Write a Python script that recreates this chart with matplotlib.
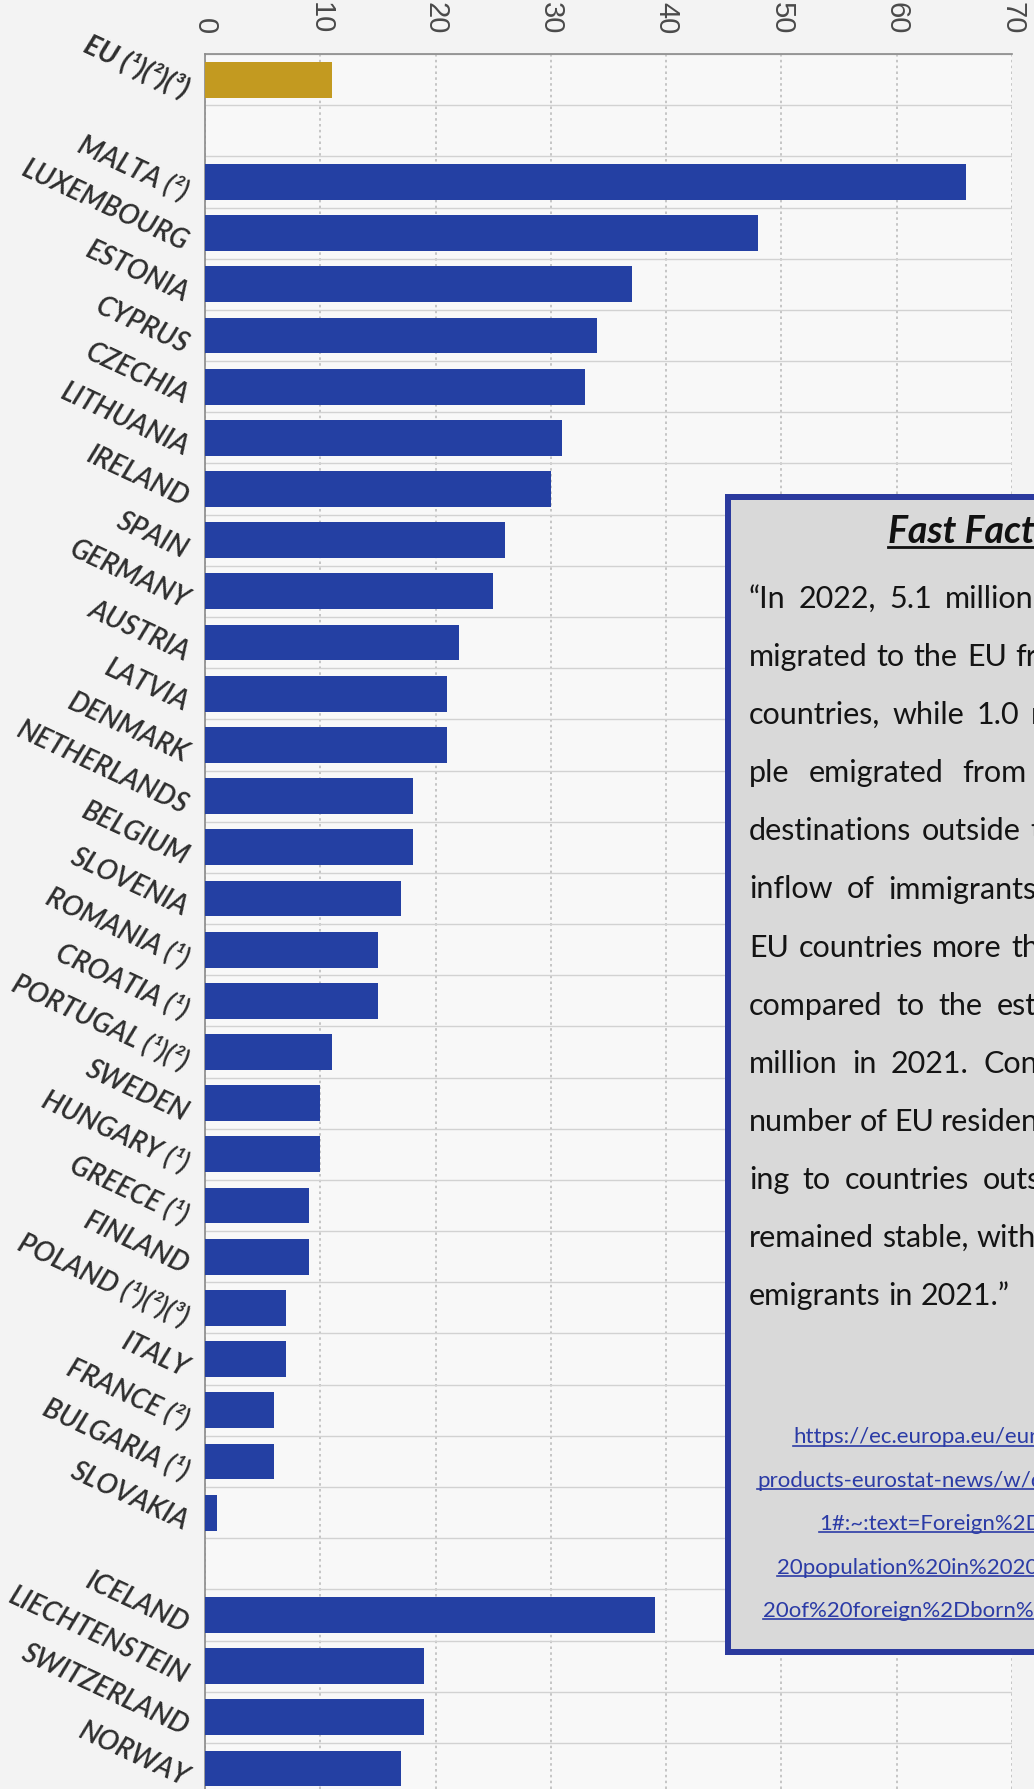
import matplotlib
matplotlib.use("Agg")
import matplotlib.pyplot as plt
import matplotlib.patches as mpatches
import matplotlib.transforms as mtransforms
from matplotlib.lines import Line2D
from matplotlib.ticker import FixedLocator
import numpy as np

# ---------------- data ----------------
eu_label = "EU (¹)(²)(³)"
eu_value = 11
member_countries = ["MALTA (²)", "LUXEMBOURG", "ESTONIA", "CYPRUS", "CZECHIA",
                    "LITHUANIA", "IRELAND", "SPAIN", "GERMANY", "AUSTRIA",
                    "LATVIA", "DENMARK", "NETHERLANDS", "BELGIUM", "SLOVENIA",
                    "ROMANIA (¹)", "CROATIA (¹)", "PORTUGAL (¹)(²)", "SWEDEN",
                    "HUNGARY (¹)", "GREECE (¹)", "FINLAND", "POLAND (¹)(²)(³)",
                    "ITALY", "FRANCE (²)", "BULGARIA (¹)", "SLOVAKIA"]
member_values = [66, 48, 37, 34, 33, 31, 30, 26, 25, 22, 21, 21, 18, 18, 17,
                 15, 15, 11, 10, 10, 9, 9, 7, 7, 6, 6, 1]
efta_countries = ["ICELAND", "LIECHTENSTEIN", "SWITZERLAND", "NORWAY"]
efta_values = [39, 19, 19, 17]
x_ticks = [0, 10, 20, 30, 40, 50, 60, 70]

box_title = "Fast Facts"
body_lines = [
    "“In 2022, 5.1 million people im-",
    "migrated to the EU from non-EU",
    "countries, while 1.0 million peo-",
    "ple emigrated from the EU to",
    "destinations outside the EU. The",
    "inflow of immigrants from non-",
    "EU countries more than doubled",
    "compared to the estimated 2.3",
    "million in 2021. Conversely, the",
    "number of EU residents emigrat-",
    "ing to countries outside the EU",
    "remained stable, with 1.1 million",
    "emigrants in 2021.”",
]
link_lines = [
    "https://ec.europa.eu/eurostat/web/",
    "products-eurostat-news/w/ddn-20230330-",
    "1#:~:text=Foreign%2Dborn%",
    "20population%20in%202022%",
    "20of%20foreign%2Dborn%20people",
]

# ---------------- styles ----------------
W, H, DPI = 1034, 1790, 100
BLUE = "#2440A3"
GOLD = "#C39A20"
FIG_BG = "#F3F3F3"
AX_BG = "#F8F8F8"

labels = [eu_label, ""] + member_countries + [""] + efta_countries
values = [eu_value, np.nan] + member_values + [np.nan] + efta_values
colors = [GOLD, BLUE] + [BLUE] * len(member_countries) + [BLUE] + [BLUE] * len(efta_countries)
ypos = np.arange(len(labels))

fig = plt.figure(figsize=(W / DPI, H / DPI), dpi=DPI, facecolor=FIG_BG)
ax_left, ax_right, ax_top = 205, 1012, 55
ax = fig.add_axes([ax_left / W, 0, (ax_right - ax_left) / W, (H - ax_top) / H])
ax.set_facecolor(AX_BG)

ax.barh(ypos, values, height=0.7, color=colors, zorder=3)
ax.set_xlim(0, 70)
ax.set_ylim(len(labels) - 0.6, -0.5)

# grid
ax.set_axisbelow(True)
ax.set_xticks(x_ticks)
ax.xaxis.grid(True, linestyle=(0, (1.5, 2.0)), color="#bcbcbc", lw=1.2)
ax.set_yticks([])
ax.yaxis.set_minor_locator(FixedLocator(np.arange(-0.5, len(labels), 1.0)))
ax.yaxis.grid(True, which="minor", color="#d2d2d2", lw=1.0)

# spines
for s in ["right", "bottom"]:
    ax.spines[s].set_visible(False)
for s in ["top", "left"]:
    ax.spines[s].set_color("#8a8a8a")
    ax.spines[s].set_linewidth(1.2)

# x ticks at top
ax.xaxis.set_ticks_position("top")
ax.tick_params(axis="x", which="both", length=0, pad=15, labelsize=21,
               labelcolor="#4a4a4a", labelrotation=-90)
ax.tick_params(axis="y", which="both", length=0)
for t in ax.get_xticklabels():
    t.set_fontfamily(["Liberation Sans", "DejaVu Sans"])

# category labels (rotated, italic)
lab_off = mtransforms.ScaledTranslation(-18 / DPI, -10 / DPI, fig.dpi_scale_trans)
lab_trans = ax.get_yaxis_transform() + lab_off
for y, lab in zip(ypos, labels):
    if not lab:
        continue
    ax.text(0, y, lab, transform=lab_trans, rotation=-25, rotation_mode="anchor",
            ha="right", va="center", fontsize=20, fontstyle="italic",
            fontweight="bold" if lab == eu_label else "semibold",
            family=["Lato", "DejaVu Sans"], color="#2e2e2e", clip_on=False)


# ---------------- Fast Facts box ----------------
def fx(x):
    return x / W


def fy(y):
    return 1 - y / H


box_lw_px = 6
box = mpatches.Rectangle((fx(728), fy(1653)), fx(1250) - fx(728), fy(498) - fy(1653),
                         transform=fig.transFigure, facecolor="#D9D9D9",
                         edgecolor="#2B3A9E", linewidth=box_lw_px * 72 / DPI,
                         zorder=5)
fig.patches.append(box)

renderer = fig.canvas.get_renderer()

title = fig.text(fx(888), fy(543), box_title, fontsize=27, family=["Lato", "DejaVu Sans"],
                 fontweight="bold", fontstyle="italic", color="#111111",
                 ha="left", va="baseline", zorder=6)
bb = title.get_window_extent(renderer)
fig.lines.append(Line2D([bb.x0 / W, bb.x1 / W], [fy(548), fy(548)],
                        transform=fig.transFigure, color="#111111", lw=2.0, zorder=6))

body_gaps = [13, 9, 12, 19, 10, 14, 9.5, 14, 14.5, 7, 13.5, 8, 8]
body_x0, body_y0, body_pitch = 749, 608, 58.1
for i, (line, gap) in enumerate(zip(body_lines, body_gaps)):
    x = body_x0
    yb = body_y0 + i * body_pitch
    for word in line.split(" "):
        t = fig.text(fx(x), fy(yb), word, fontsize=22, family=["Lato", "DejaVu Sans"],
                     color="#141414", ha="left", va="baseline", zorder=6)
        wb = t.get_window_extent(renderer)
        x = wb.x1 + gap

link_x = [793, 757, 819, 777, 763]
link_y0, link_pitch = 1443.5, 43.4
LINK = "#2B3BA6"
for i, (line, lx) in enumerate(zip(link_lines, link_x)):
    yb = link_y0 + i * link_pitch
    t = fig.text(fx(lx), fy(yb), line, fontsize=16, family=["Lato", "DejaVu Sans"],
                 color=LINK, ha="left", va="baseline", zorder=6)
    lb = t.get_window_extent(renderer)
    fig.lines.append(Line2D([lb.x0 / W, min(lb.x1, W + 5) / W], [fy(yb + 3), fy(yb + 3)],
                            transform=fig.transFigure, color=LINK, lw=1.2, zorder=6))

fig.savefig("out.png", dpi=DPI, facecolor=FIG_BG)
